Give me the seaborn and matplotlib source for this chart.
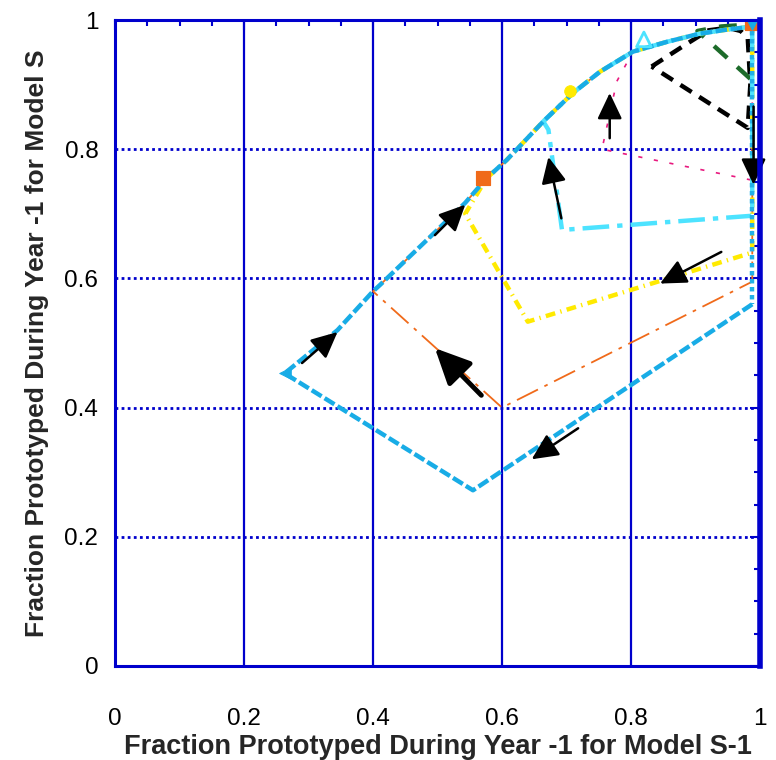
import matplotlib
matplotlib.use("Agg")
import matplotlib.pyplot as plt
import seaborn as sns
import numpy as np

# ---------------- data ----------------
curve_x = [0.263, 0.345, 0.400, 0.411, 0.480, 0.543, 0.576, 0.607, 0.664, 0.710,
           0.752, 0.803, 0.855, 0.907, 0.948, 0.988]
curve_y = [0.453, 0.520, 0.580, 0.590, 0.656, 0.717, 0.755, 0.783, 0.843, 0.887,
           0.920, 0.951, 0.966, 0.979, 0.985, 0.990]

blue_x = [0.988, 0.555] + curve_x
blue_y = [0.560, 0.272] + curve_y
blue_edge_x = [0.988, 0.988]
blue_edge_y = [0.995, 0.560]

orange_x = [0.988, 0.988, 0.600] + curve_x[2:]
orange_y = [0.995, 0.595, 0.400] + curve_y[2:]

yellow_x = [0.988, 0.988, 0.640, 0.543] + curve_x[6:]
yellow_y = [0.995, 0.640, 0.533, 0.700] + curve_y[6:]

cyan_x = [0.988, 0.988, 0.693, 0.672] + curve_x[8:]
cyan_y = [0.995, 0.697, 0.675, 0.830] + curve_y[8:]

pink_x = [0.988, 0.988, 0.755, 0.778] + curve_x[11:]
pink_y = [0.995, 0.752, 0.800, 0.905] + curve_y[11:]

black_x = [0.832, 0.880, 0.920, 0.950, 0.970, 0.981, 0.985, 0.981, 0.832]
black_y = [0.928, 0.959, 0.984, 0.988, 0.983, 0.972, 0.900, 0.833, 0.928]

green_x = [0.985, 0.903, 0.940, 0.985]
green_y = [0.909, 0.983, 0.990, 0.993]

# markers
sq_x, sq_y = [0.570, 0.988], [0.755, 0.995]
circ_x, circ_y = [0.705], [0.890]
tri_x, tri_y = [0.820], [0.970]
dtri_x, dtri_y = [0.988], [0.998]
ltri_x, ltri_y = [0.263], [0.453]

# arrows: tail -> tip
arrow_tail = [(0.290, 0.469), (0.568, 0.419), (0.718, 0.368), (0.940, 0.641),
              (0.692, 0.693), (0.767, 0.817), (0.990, 0.866), (0.496, 0.667)]
arrow_tip = [(0.345, 0.517), (0.496, 0.492), (0.646, 0.320), (0.845, 0.592),
             (0.672, 0.788), (0.767, 0.887), (0.990, 0.745), (0.543, 0.714)]
arrow_big = [False, True, False, False, False, False, False, False]

x_ticks = [0, 0.2, 0.4, 0.6, 0.8, 1]
x_tick_labels = ["0", "0.2", "0.4", "0.6", "0.8", "1"]
y_ticks = [0, 0.2, 0.4, 0.6, 0.8, 1]
y_tick_labels = ["0", "0.2", "0.4", "0.6", "0.8", "1"]

# ---------------- style ----------------
sns.set_style("white")
plt.rcParams['font.family'] = ['Liberation Sans', 'DejaVu Sans']

AXBLUE = '#0000cc'
fig = plt.figure(figsize=(7.76, 7.60), dpi=100)
ax = fig.add_axes([115/776, 94/760, 645/776, 646/760])

# grid
for gx in [0.2, 0.4, 0.6, 0.8]:
    ax.axvline(gx, color=AXBLUE, lw=1.6, zorder=1)
for gy in [0.2, 0.4, 0.6, 0.8, 1.0]:
    ax.axhline(gy, color=AXBLUE, lw=2.0, ls=(0, (1, 1.2)), zorder=1)


def draw(x, y, color, lw, dashes, z):
    sns.lineplot(x=x, y=y, sort=False, estimator=None, color=color, lw=lw, ax=ax, zorder=z)
    ln = ax.lines[-1]
    ln.set_dashes(dashes)
    ln.set_dash_capstyle('butt')
    ln.set_solid_capstyle('butt')
    return ln


draw(black_x, black_y, 'black', 3.2, (3, 2), 3)
draw(green_x, green_y, '#1d6b2a', 3.2, (4, 3), 3)
draw(pink_x, pink_y, '#e8197f', 1.2, (2.5, 7), 3)
draw(orange_x, orange_y, '#f06a1a', 1.3, (13, 4, 2, 4), 4)
draw(yellow_x, yellow_y, '#ffea00', 3.2, (2.2, 1.2, 0.3, 1.2), 5)
draw(cyan_x, cyan_y, '#4de3ff', 3.2, (6, 1.8, 1.2, 1.8), 6)
draw(blue_x, blue_y, '#18ace6', 3.2, (2.6, 0.8), 7)
draw(blue_edge_x, blue_edge_y, '#22b0e8', 3.2, (1, 0.8), 7)

sns.scatterplot(x=sq_x, y=sq_y, marker='s', s=110, color='#f06a1a', edgecolor='#f06a1a', ax=ax, zorder=8)
sns.scatterplot(x=circ_x, y=circ_y, marker='o', s=70, color='#ffea00', edgecolor='#ffea00', ax=ax, zorder=8)
sns.scatterplot(x=tri_x, y=tri_y, marker='^', s=110, facecolor='none', edgecolor='#4de3ff', linewidth=2, ax=ax, zorder=8)
sns.scatterplot(x=dtri_x, y=dtri_y, marker='v', s=150, color='#18ace6', edgecolor='#18ace6', ax=ax, zorder=9)
sns.scatterplot(x=ltri_x, y=ltri_y, marker='<', s=70, color='#18ace6', edgecolor='#18ace6', ax=ax, zorder=9)

for (tx, ty), (hx, hy), big in zip(arrow_tail, arrow_tip, arrow_big):
    ax.annotate('', xy=(hx, hy), xytext=(tx, ty),
                arrowprops=dict(arrowstyle='-|>,head_length=0.8,head_width=0.38',
                                mutation_scale=27 if big else 20,
                                color='black', lw=3.5 if big else 1.8,
                                shrinkA=0, shrinkB=0),
                zorder=10)

ax.set_xlim(0, 1)
ax.set_ylim(0, 1)
ax.set_xticks(x_ticks)
ax.set_xticklabels(x_tick_labels)
ax.set_yticks(y_ticks)
ax.set_yticklabels(y_tick_labels)
ax.set_xticks(np.arange(0, 1.001, 0.05), minor=True)
ax.set_yticks(np.arange(0, 1.001, 0.05), minor=True)
ax.tick_params(which='both', direction='in', color=AXBLUE, top=True, right=True,
               labelsize=17.5, labelcolor='black')
ax.tick_params(which='major', length=7, width=1.5)
ax.tick_params(which='minor', length=4, width=1.5)
ax.tick_params(axis='x', which='major', pad=30)
ax.tick_params(axis='y', which='major', pad=12)

for side, sp in ax.spines.items():
    sp.set_visible(True)
    sp.set_color(AXBLUE)
    sp.set_linewidth(2.2)
    sp.set_zorder(11)
ax.spines['right'].set_linewidth(4)

ax.set_xlabel('Fraction Prototyped During Year -1 for Model S-1', fontsize=19.5, fontweight='bold', labelpad=3)
ax.set_ylabel('Fraction Prototyped During Year -1 for Model S', fontsize=19, fontweight='bold', labelpad=11)

fig.savefig('out.png', dpi=100)
